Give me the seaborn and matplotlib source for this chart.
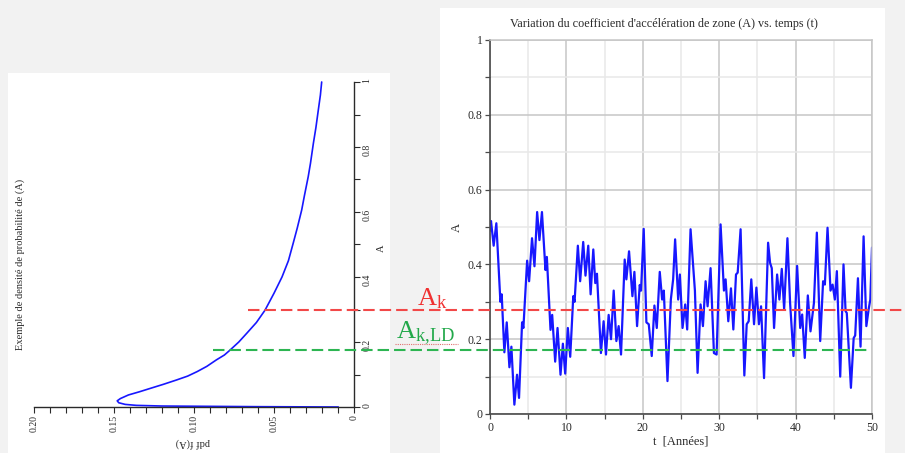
import numpy as np
import pandas as pd
import matplotlib
matplotlib.use("Agg")
import matplotlib.pyplot as plt
import seaborn as sns
from matplotlib.ticker import MultipleLocator
from matplotlib.patches import Rectangle
from matplotlib.lines import Line2D
import matplotlib.transforms as mtransforms

sns.set_theme(style="white")
plt.rcParams["font.family"] = ["Liberation Serif", "DejaVu Serif"]

# ---- data -------------------------------------------------------------
# probability density of the zone acceleration coefficient A
pdf_A = [0.0, 0.001, 0.003, 0.005, 0.008, 0.013, 0.019, 0.026, 0.037, 0.047, 0.057,
         0.070, 0.083, 0.095, 0.109, 0.125, 0.145, 0.160, 0.175, 0.200, 0.227, 0.260,
         0.298, 0.350, 0.400, 0.450, 0.504, 0.550, 0.606, 0.650, 0.709, 0.750, 0.811,
         0.860, 0.914, 0.960, 1.0]
pdf_f = [0.0098, 0.060, 0.120, 0.136, 0.143, 0.147, 0.148, 0.146, 0.141, 0.134, 0.1275,
         0.119, 0.111, 0.104, 0.098, 0.092, 0.086, 0.081, 0.0775, 0.072, 0.067, 0.061,
         0.0556, 0.050, 0.045, 0.041, 0.038, 0.0355, 0.0327, 0.031, 0.0286, 0.0272, 0.0254,
         0.0238, 0.0223, 0.021, 0.0202]

# time history of A over 50 years
t_years = [0.0, 0.13, 0.48, 0.83, 1.36, 1.53, 1.88, 2.19, 2.54, 2.8, 3.19, 3.54, 3.8,
           4.2, 4.37, 4.86, 5.12, 5.5, 5.82, 6.17, 6.47, 6.8, 7.26, 7.44, 7.92, 8.14,
           8.53, 8.84, 9.23, 9.54, 9.84, 10.19, 10.5, 10.9, 11.07, 11.5, 11.8, 12.2,
           12.5, 12.86, 13.17, 13.52, 13.78, 14.0, 14.52, 14.87, 15.18, 15.53, 15.84,
           16.19, 16.54, 16.84, 17.15, 17.63, 17.85, 18.2, 18.64, 18.9, 19.25, 19.6,
           19.77, 20.12, 20.47, 20.78, 21.17, 21.52, 21.83, 22.22, 22.53, 22.75, 23.23,
           23.67, 23.97, 24.23, 24.63, 24.85, 25.2, 25.55, 25.81, 26.25, 26.82, 27.17,
           27.56, 27.87, 28.22, 28.48, 28.87, 29.31, 29.66, 30.18, 30.62, 30.84, 31.19,
           31.54, 31.85, 32.2, 32.42, 32.8, 33.29, 33.6, 33.86, 34.2, 34.56, 34.87,
           35.2, 35.48, 35.87, 36.4, 36.66, 36.88, 37.18, 37.58, 37.88, 38.19, 38.5,
           38.93, 39.28, 39.72, 40.2, 40.6, 40.86, 41.2, 41.6, 41.95, 42.4, 42.78,
           43.22, 43.6, 43.83, 44.18, 44.57, 44.84, 45.14, 45.4, 45.84, 46.27, 46.54,
           46.7, 47.24, 47.6, 47.8, 48.16, 48.5, 48.9, 49.26, 49.56, 49.78, 50.0]
a_coeff = [0.49, 0.516, 0.45, 0.51, 0.30, 0.32, 0.165, 0.245, 0.125, 0.18, 0.025, 0.105,
           0.043, 0.245, 0.23, 0.41, 0.355, 0.47, 0.395, 0.54, 0.465, 0.54, 0.385, 0.42,
           0.225, 0.265, 0.14, 0.23, 0.105, 0.188, 0.108, 0.23, 0.153, 0.315, 0.30,
           0.45, 0.355, 0.46, 0.37, 0.45, 0.32, 0.44, 0.35, 0.375, 0.163, 0.248, 0.159,
           0.265, 0.20, 0.33, 0.195, 0.235, 0.159, 0.413, 0.36, 0.435, 0.315, 0.38,
           0.235, 0.345, 0.33, 0.495, 0.245, 0.24, 0.155, 0.29, 0.23, 0.38, 0.306, 0.33,
           0.088, 0.306, 0.36, 0.467, 0.306, 0.373, 0.23, 0.293, 0.226, 0.494, 0.33,
           0.11, 0.293, 0.235, 0.355, 0.288, 0.39, 0.163, 0.159, 0.507, 0.33, 0.36,
           0.248, 0.336, 0.226, 0.373, 0.378, 0.494, 0.103, 0.24, 0.248, 0.36, 0.24,
           0.338, 0.24, 0.288, 0.096, 0.458, 0.404, 0.39, 0.23, 0.373, 0.306, 0.388,
           0.28, 0.47, 0.297, 0.155, 0.396, 0.23, 0.266, 0.15, 0.317, 0.221, 0.297,
           0.485, 0.195, 0.355, 0.346, 0.498, 0.33, 0.346, 0.306, 0.382, 0.10, 0.40,
           0.275, 0.27, 0.07, 0.203, 0.21, 0.363, 0.18, 0.475, 0.235, 0.28, 0.306, 0.445]

# threshold levels
A_k = 0.278
A_k_LD = 0.171

pdf_ticks = [0.20, 0.15, 0.10, 0.05, 0.0]
pdf_tick_labels = ["0.20", "0.15", "0.10", "0.05", "0"]
a_ticks = [0, 0.2, 0.4, 0.6, 0.8, 1.0]
a_tick_labels = ["0", "0.2", "0.4", "0.6", "0.8", "1"]
t_ticks = [0, 10, 20, 30, 40, 50]
t_tick_labels = ["0", "10", "20", "30", "40", "50"]

df_pdf = pd.DataFrame({"f": pdf_f, "A": pdf_A})
df_ts = pd.DataFrame({"t": t_years, "A": a_coeff})

# ---- figure -----------------------------------------------------------
W, H = 905, 453
fig = plt.figure(figsize=(W / 100, H / 100), dpi=100, facecolor="#f2f2f2")


def fx(px):
    return px / W


def fy(py):
    return 1 - py / H


# white panels behind each plot
for (x0, y0, x1, y1) in [(8, 73, 390, 453), (440, 8, 885, 453)]:
    fig.add_artist(Rectangle((fx(x0), fy(y1)), (x1 - x0) / W, (y1 - y0) / H,
                             transform=fig.transFigure, facecolor="white",
                             edgecolor="none", zorder=-10))

dark = "#2a2a2a"
blue = "#1717ff"

# ---- left: density plotted sideways ------------------------------------
ax1 = fig.add_axes([fx(34), fy(407), 320 / W, 325 / H])
ax1.set_facecolor("none")
sns.lineplot(data=df_pdf, x="f", y="A", sort=False, estimator=None, ax=ax1,
             color=blue, lw=1.2)
for ln in ax1.lines:
    ln.set_clip_on(False)
    ln.set_solid_joinstyle("round")
ax1.set_xlim(0.20, 0)
ax1.set_ylim(0, 1)
for s in ["top", "left"]:
    ax1.spines[s].set_visible(False)
for s in ["right", "bottom"]:
    ax1.spines[s].set_color(dark)
    ax1.spines[s].set_linewidth(1.0)
ax1.yaxis.tick_right()
ax1.set_xticks(pdf_ticks)
ax1.set_xticklabels(pdf_tick_labels)
ax1.set_yticks(a_ticks)
ax1.set_yticklabels(a_tick_labels)
ax1.xaxis.set_minor_locator(MultipleLocator(0.01))
ax1.yaxis.set_minor_locator(MultipleLocator(0.1))
ax1.tick_params(which="both", direction="out", length=4, width=0.8, colors=dark,
                labelsize=7, pad=2)
ax1.tick_params(axis="x", which="both", bottom=True, labelrotation=90)
ax1.tick_params(axis="y", which="both", right=True, left=False, labelrotation=90)
ax1.set_xlabel("")
ax1.set_ylabel("")
fig.text(fx(193), fy(443), "pdf f(A)", rotation=180, ha="center", va="center",
         fontsize=7.5, color=dark)
fig.text(fx(381), fy(248), "A", rotation=90, ha="center", va="center",
         fontsize=7.5, color=dark)
fig.text(fx(20), fy(264), "Exemple de densité de probabilité de (A)", rotation=90,
         ha="center", va="center", fontsize=7.5, color=dark)

# ---- right: time history -----------------------------------------------
ax2 = fig.add_axes([fx(490), fy(414), 382 / W, 374 / H])
ax2.set_facecolor("none")
ax2.set_axisbelow(True)
sns.lineplot(data=df_ts, x="t", y="A", estimator=None, ax=ax2, color=blue, lw=1.6)
for ln in ax2.lines:
    ln.set_solid_joinstyle("round")
ax2.set_xlim(0, 50)
ax2.set_ylim(0, 1)
ax2.set_xticks(t_ticks)
ax2.set_xticklabels(t_tick_labels)
ax2.set_yticks(a_ticks)
ax2.set_yticklabels(a_tick_labels)
ax2.xaxis.set_minor_locator(MultipleLocator(5))
ax2.yaxis.set_minor_locator(MultipleLocator(0.1))
ax2.grid(which="major", color="#c6c6c6", lw=1.1)
ax2.grid(which="minor", color="#e8e8e8", lw=1.1)
for s in ["left", "bottom"]:
    ax2.spines[s].set_color("#4a4a4a")
    ax2.spines[s].set_linewidth(1.2)
for s in ["top", "right"]:
    ax2.spines[s].set_color("#c6c6c6")
    ax2.spines[s].set_linewidth(1.1)
ax2.tick_params(which="both", direction="out", length=3.5, width=0.9,
                colors="#4a4a4a", labelsize=8.5, pad=2, left=True, bottom=True)
ax2.tick_params(labelcolor=dark)
ax2.set_xlabel("t  [Années]", fontsize=9, color=dark, labelpad=1)
ax2.set_ylabel("A", fontsize=9, color=dark, labelpad=3)
fig.text(fx(664), fy(24), "Variation du coefficient d'accélération de zone (A) vs. temps (t)",
         ha="center", va="center", fontsize=8.7, color=dark)

# ---- threshold lines spanning both plots -------------------------------
x_ax = lambda px: (px - 490) / 382
ax2.axhline(A_k, xmin=x_ax(248), xmax=x_ax(905), clip_on=False,
            color="#f24848", lw=1.5, dashes=(5.5, 2.4), zorder=5)
ax2.axhline(A_k_LD, xmin=x_ax(213), xmax=x_ax(867), clip_on=False,
            color="#2db552", lw=1.5, dashes=(5.5, 2.4), zorder=5)

blend = mtransforms.blended_transform_factory(ax2.transAxes, ax2.transData)
ax2.text(x_ax(417), A_k + 0.013, r"$\mathregular{A_k}$", transform=blend,
         color="#f03030", fontsize=19, ha="left", va="baseline", clip_on=False)
ax2.text(x_ax(396), A_k_LD + 0.032, r"$\mathregular{A_{k{,}LD}}$", transform=blend,
         color="#22a84a", fontsize=19, ha="left", va="baseline", clip_on=False)
fig.add_artist(Line2D([fx(395), fx(458)], [fy(344), fy(344)], transform=fig.transFigure,
                      color="#e07070", lw=0.8, ls=(0, (1, 1))))

fig.savefig("out.png", dpi=100, facecolor=fig.get_facecolor())
